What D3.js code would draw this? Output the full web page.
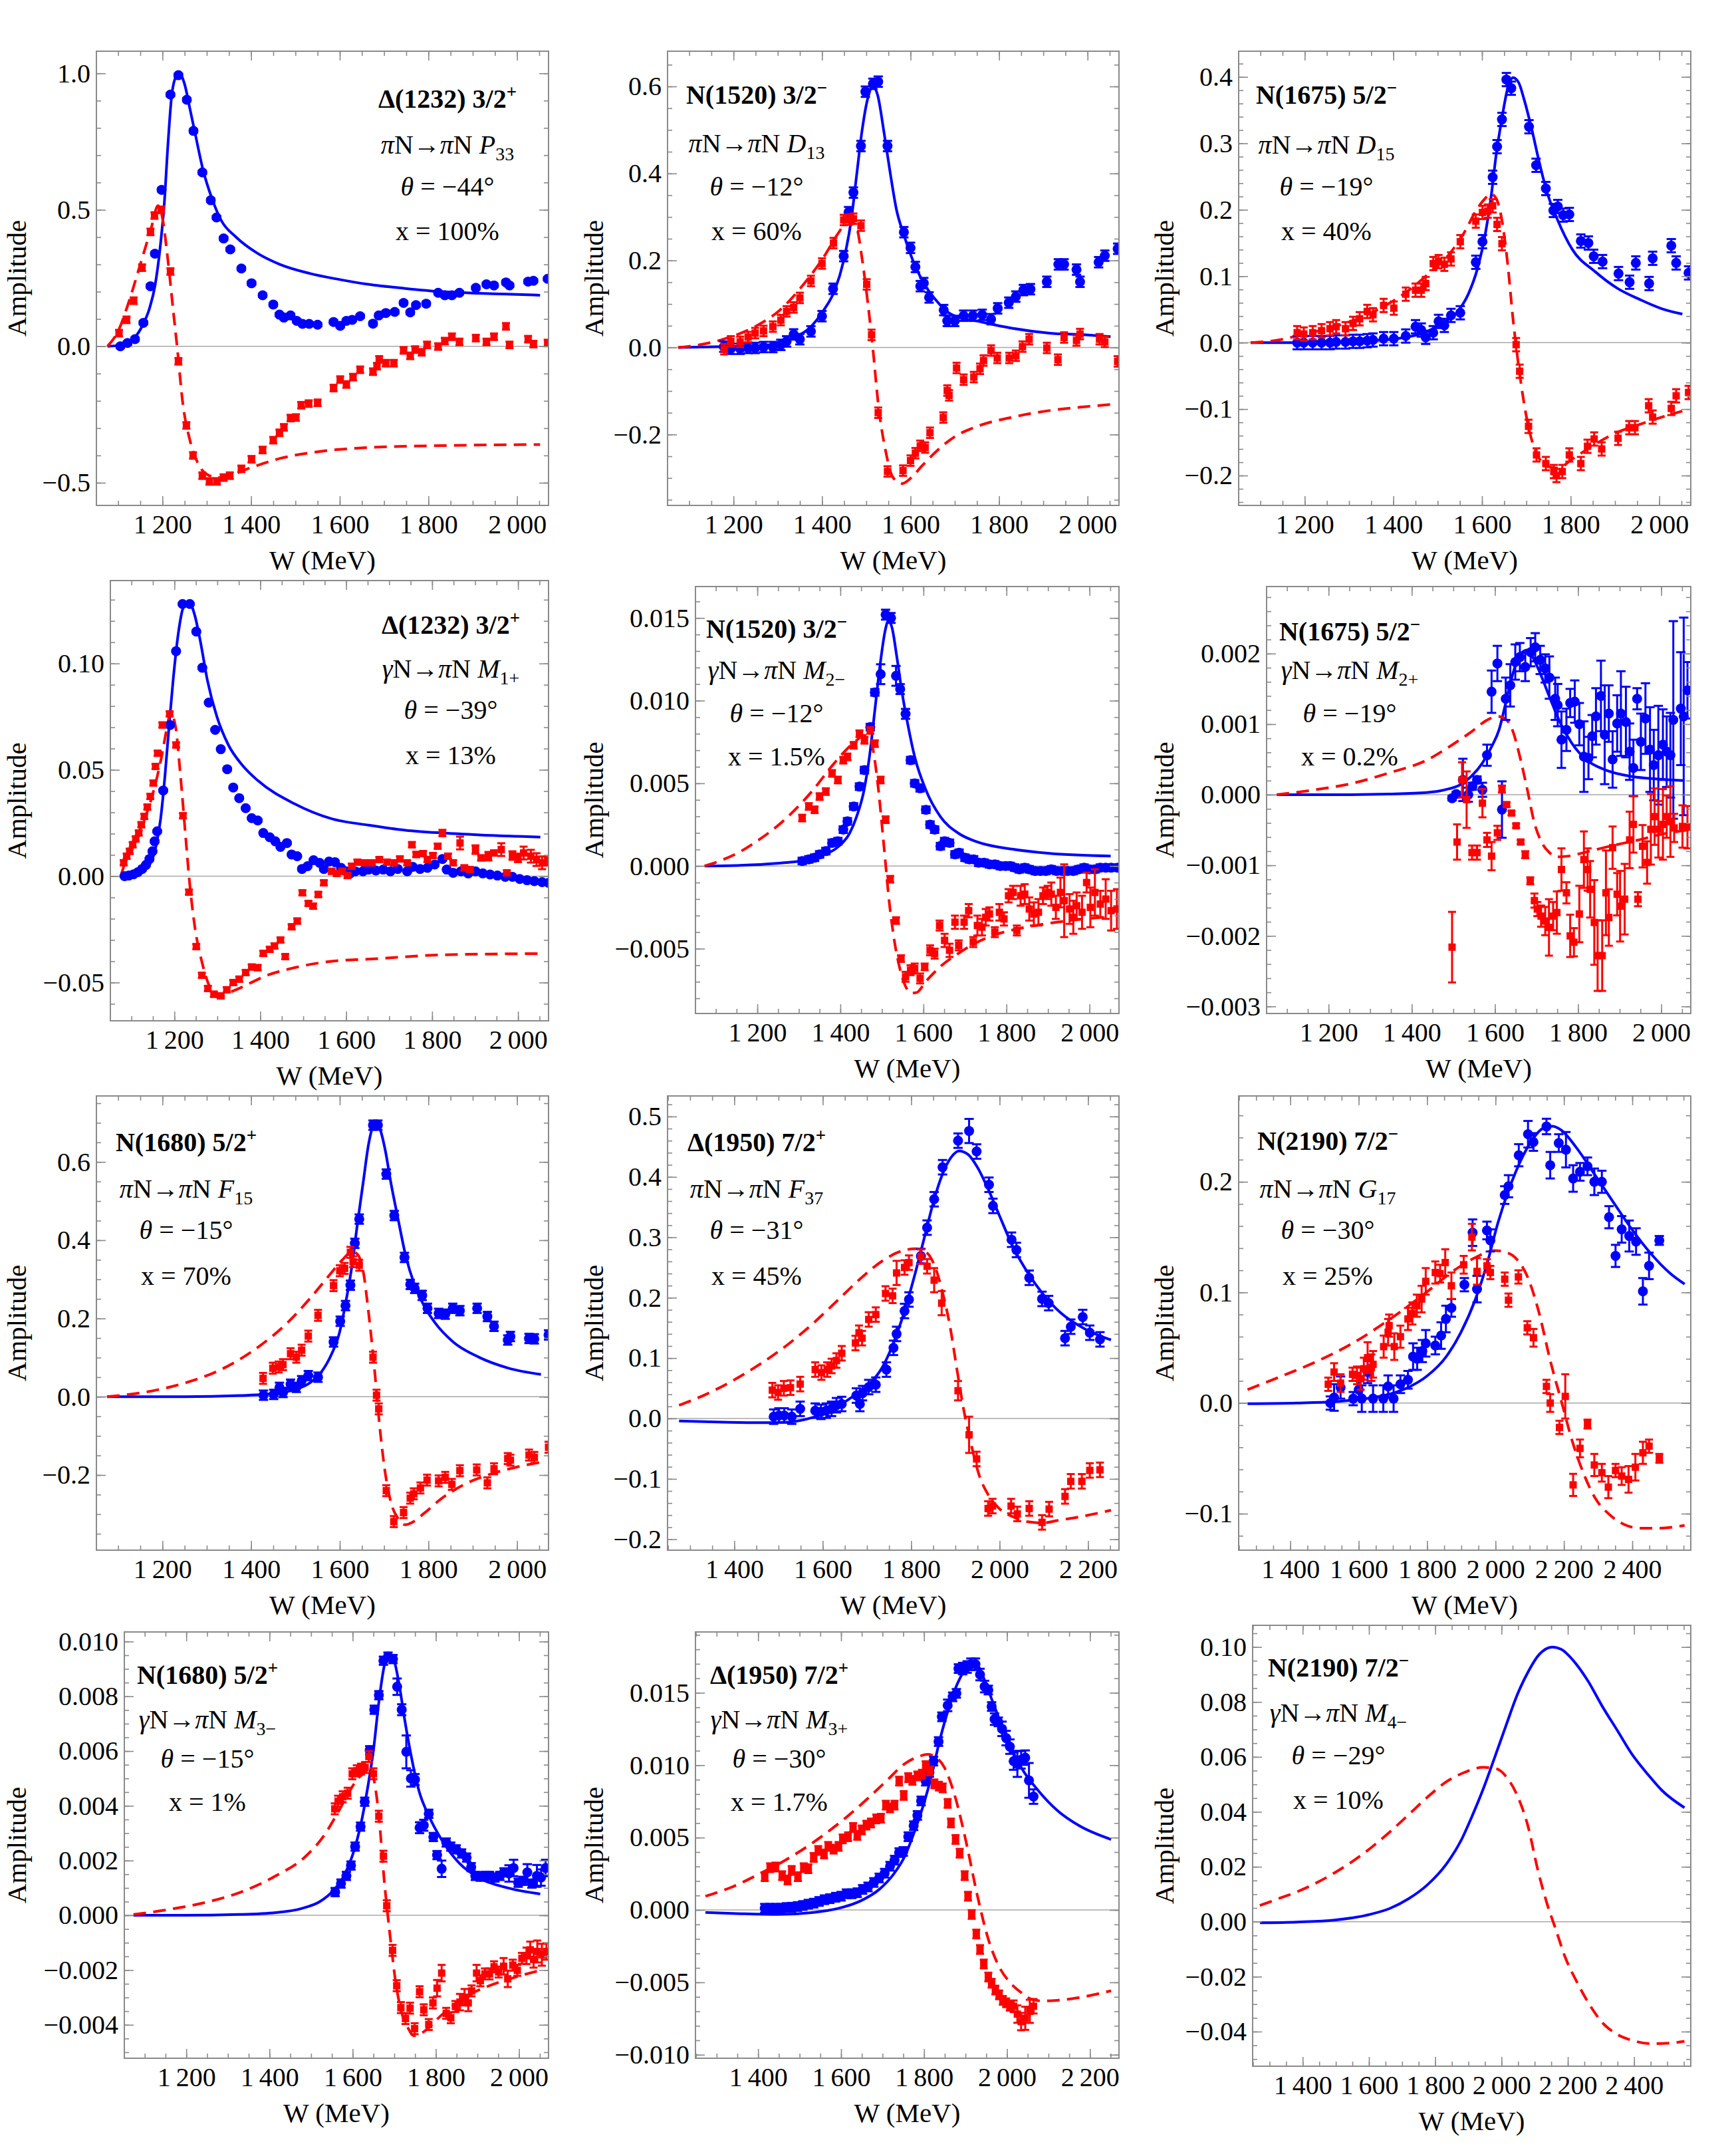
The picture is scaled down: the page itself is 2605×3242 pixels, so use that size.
<!DOCTYPE html>
<html>
<head>
<meta charset="utf-8">
<script src="https://cdn.jsdelivr.net/npm/d3@7"></script>
<style>body{margin:0;background:#fff}</style>
</head>
<body>
<div id="chart"></div>
<script>
// ---- data: [W (MeV), amplitude, (error)] ----
// row 1 : piN -> piN
const p1BlueCurve = [[1076,0],[1109,0.005],[1134,0.026],[1154,0.073],[1171,0.14],[1183,0.22],[1196,0.38],[1204,0.52],[1212,0.73],[1221,0.92],[1231,0.987],[1240,0.995],[1250,0.96],[1262,0.87],[1275,0.77],[1291,0.65],[1312,0.54],[1333,0.46],[1366,0.40],[1415,0.34],[1465,0.30],[1532,0.267],[1598,0.245],[1664,0.227],[1747,0.212],[1830,0.2],[1913,0.194],[2000,0.19],[2052,0.187]];
const p1RedCurve = [[1076,0],[1101,0.059],[1125,0.167],[1150,0.30],[1175,0.435],[1190,0.515],[1200,0.47],[1212,0.32],[1225,0.12],[1233,0],[1246,-0.21],[1262,-0.344],[1279,-0.425],[1299,-0.468],[1324,-0.481],[1349,-0.474],[1399,-0.445],[1465,-0.411],[1548,-0.387],[1664,-0.371],[1830,-0.364],[2052,-0.36]];
const p1BlueData = [[1105,0],[1121,0.012],[1138,0.026],[1157,0.086],[1173,0.22],[1183,0.339],[1198,0.573],[1218,0.922],[1236,0.993],[1255,0.903],[1270,0.789],[1290,0.637],[1309,0.535],[1322,0.472],[1338,0.395],[1353,0.355],[1378,0.285],[1401,0.231],[1426,0.187],[1450,0.153],[1464,0.116],[1474,0.105],[1489,0.113],[1503,0.093],[1516,0.082],[1531,0.082],[1550,0.079],[1586,0.089],[1601,0.075],[1615,0.093],[1628,0.097],[1646,0.11],[1675,0.083],[1688,0.113],[1704,0.122],[1724,0.126],[1744,0.159],[1759,0.124],[1772,0.151],[1795,0.156],[1822,0.196],[1837,0.187],[1853,0.187],[1870,0.196],[1907,0.214],[1931,0.227],[1948,0.223],[1975,0.234],[1983,0.223],[2025,0.237],[2037,0.24],[2069,0.247]];
const p1RedData = [[1102,0.048],[1119,0.097],[1135,0.167],[1154,0.288],[1173,0.419],[1182,0.479],[1197,0.5],[1218,0.274],[1236,-0.055],[1254,-0.29],[1269,-0.40],[1290,-0.474],[1306,-0.495],[1323,-0.495],[1338,-0.481],[1352,-0.474],[1378,-0.449],[1401,-0.414],[1426,-0.38],[1450,-0.344],[1464,-0.317],[1474,-0.297],[1489,-0.263],[1501,-0.261],[1513,-0.216],[1530,-0.21],[1550,-0.207],[1586,-0.153],[1601,-0.122],[1615,-0.14],[1630,-0.113],[1646,-0.086],[1675,-0.093],[1684,-0.073],[1689,-0.048],[1704,-0.062],[1722,-0.062],[1744,-0.015],[1759,-0.035],[1770,-0.012],[1785,-0.022],[1797,0.005],[1822,-0.001],[1837,0.019],[1853,0.035],[1870,0.016],[1907,0.03],[1931,0.016],[1948,0.035],[1975,0.073],[1983,0.005],[2025,0.026],[2037,0.008],[2069,0.012]];

const p2BlueCurve = [[1075,0],[1174,0.002],[1256,0.004],[1305,0.01],[1338,0.023],[1371,0.044],[1404,0.086],[1429,0.132],[1449,0.2],[1466,0.293],[1478,0.394],[1490,0.495],[1503,0.571],[1515,0.6],[1526,0.579],[1540,0.495],[1554,0.402],[1568,0.318],[1585,0.259],[1609,0.191],[1634,0.141],[1659,0.107],[1683,0.082],[1716,0.067],[1749,0.061],[1790,0.052],[1831,0.044],[1914,0.033],[1996,0.029],[2052,0.025]];
const p2RedCurve = [[1075,0],[1133,0.008],[1190,0.023],[1256,0.052],[1305,0.086],[1355,0.141],[1404,0.208],[1437,0.263],[1461,0.293],[1478,0.276],[1490,0.208],[1503,0.107],[1515,-0.003],[1527,-0.129],[1544,-0.239],[1560,-0.298],[1581,-0.313],[1601,-0.3],[1626,-0.272],[1659,-0.238],[1700,-0.205],[1749,-0.182],[1831,-0.16],[1914,-0.145],[1996,-0.136],[2052,-0.131]];
const p2BlueData = [[1178,0.002],[1194,-0.003],[1215,-0.003],[1233,-0.001],[1249,-0.001],[1268,0.001],[1289,0.001],[1307,0.006],[1320,0.014],[1336,0.03],[1350,0.019],[1375,0.037],[1400,0.072],[1425,0.135],[1449,0.21],[1460,0.311],[1471,0.356],[1488,0.463],[1498,0.588],[1515,0.606],[1527,0.611],[1548,0.463],[1585,0.265],[1600,0.229],[1611,0.185],[1622,0.141],[1630,0.148],[1642,0.115],[1675,0.086],[1683,0.061],[1700,0.061],[1720,0.073],[1741,0.073],[1762,0.075],[1782,0.065],[1797,0.09],[1822,0.103],[1838,0.117],[1855,0.132],[1871,0.134],[1908,0.151],[1934,0.191],[1947,0.191],[1975,0.179],[1983,0.151],[2025,0.196],[2039,0.211],[2068,0.227]];
const p2RedData = [[1179,-0.004],[1194,0.014],[1215,0.013],[1233,0.024],[1249,0.033],[1268,0.038],[1289,0.048],[1307,0.063],[1320,0.083],[1336,0.092],[1350,0.114],[1375,0.153],[1400,0.193],[1426,0.24],[1449,0.293],[1461,0.294],[1471,0.296],[1488,0.28],[1501,0.145],[1512,0.029],[1527,-0.15],[1548,-0.285],[1583,-0.283],[1600,-0.26],[1611,-0.243],[1622,-0.226],[1633,-0.23],[1644,-0.196],[1674,-0.161],[1683,-0.099],[1687,-0.11],[1704,-0.047],[1720,-0.074],[1743,-0.068],[1757,-0.049],[1765,-0.03],[1782,-0.007],[1796,-0.024],[1823,-0.024],[1838,-0.019],[1853,0.002],[1868,0.019],[1908,-0.001],[1933,-0.028],[1947,0.023],[1975,0.016],[1983,0.031],[2027,0.019],[2039,0.013],[2068,-0.032]];

const p3BlueCurve = [[1078,0],[1183,0],[1267,0.001],[1351,0.003],[1418,0.007],[1469,0.015],[1511,0.029],[1544,0.046],[1569,0.073],[1590,0.112],[1607,0.162],[1620,0.217],[1632,0.283],[1645,0.338],[1658,0.383],[1670,0.399],[1683,0.391],[1695,0.366],[1712,0.322],[1729,0.272],[1746,0.228],[1771,0.184],[1804,0.14],[1855,0.107],[1905,0.082],[1956,0.065],[2006,0.051],[2052,0.043]];
const p3RedCurve = [[1078,0],[1141,0.004],[1200,0.013],[1267,0.024],[1334,0.04],[1385,0.057],[1435,0.079],[1485,0.107],[1527,0.134],[1561,0.167],[1586,0.198],[1607,0.217],[1620,0.224],[1632,0.217],[1645,0.184],[1658,0.118],[1670,0.035],[1683,-0.037],[1695,-0.092],[1708,-0.136],[1725,-0.169],[1746,-0.186],[1771,-0.189],[1804,-0.175],[1855,-0.153],[1905,-0.135],[1956,-0.123],[2006,-0.112],[2052,-0.103]];
const p3BlueData = [[1183,0],[1198,0],[1218,0],[1238,0],[1257,0],[1271,0.001],[1292,0.001],[1309,0.002],[1324,0.002],[1341,0.003],[1354,0.004],[1378,0.006],[1401,0.006],[1428,0.01],[1450,0.024],[1463,0.019],[1473,0.008],[1490,0.015],[1502,0.032],[1515,0.026],[1530,0.041],[1551,0.045],[1586,0.121],[1601,0.152],[1624,0.249],[1634,0.295],[1645,0.336],[1655,0.396],[1666,0.383],[1706,0.325],[1722,0.267],[1744,0.232],[1761,0.199],[1771,0.205],[1783,0.192],[1797,0.193],[1823,0.153],[1840,0.15],[1852,0.13],[1872,0.122],[1908,0.104],[1933,0.091],[1947,0.12],[1977,0.089],[1985,0.127],[2027,0.146],[2038,0.12],[2066,0.105]];
const p3RedData = [[1183,0.015],[1198,0.013],[1218,0.015],[1238,0.018],[1257,0.021],[1271,0.024],[1292,0.021],[1309,0.029],[1324,0.036],[1341,0.047],[1354,0.042],[1378,0.056],[1401,0.052],[1428,0.073],[1450,0.079],[1463,0.079],[1473,0.089],[1490,0.119],[1502,0.122],[1515,0.118],[1530,0.126],[1551,0.152],[1586,0.183],[1601,0.196],[1613,0.198],[1624,0.206],[1634,0.178],[1645,0.149],[1677,-0.003],[1685,-0.043],[1705,-0.126],[1723,-0.169],[1744,-0.182],[1762,-0.194],[1768,-0.2],[1781,-0.194],[1797,-0.169],[1823,-0.182],[1838,-0.156],[1853,-0.145],[1870,-0.16],[1907,-0.144],[1932,-0.128],[1945,-0.128],[1976,-0.095],[1985,-0.112],[2027,-0.099],[2038,-0.08],[2066,-0.075]];

// row 2 : gammaN -> piN
const p4BlueCurve = [[1075,0],[1101,0.0008],[1127,0.003],[1144,0.006],[1157,0.014],[1168,0.027],[1178,0.047],[1187,0.069],[1197,0.092],[1209,0.114],[1222,0.127],[1234,0.129],[1247,0.123],[1260,0.111],[1277,0.092],[1299,0.075],[1325,0.062],[1359,0.052],[1394,0.045],[1480,0.034],[1566,0.027],[1652,0.024],[1738,0.0216],[1824,0.0203],[1910,0.0194],[2052,0.0184]];
const p4RedCurve = [[1075,0],[1088,0.008],[1105,0.016],[1127,0.025],[1148,0.0375],[1170,0.056],[1183,0.07],[1191,0.077],[1203,0.07],[1213,0.05],[1226,0.019],[1234,0],[1247,-0.023],[1265,-0.041],[1282,-0.052],[1303,-0.057],[1325,-0.055],[1359,-0.052],[1411,-0.047],[1480,-0.043],[1566,-0.04],[1652,-0.039],[1824,-0.037],[2052,-0.0364]];
const p4BlueData = [[1084,0],[1094,0.0003],[1105,0.0009],[1115,0.0019],[1125,0.0034],[1134,0.0053],[1142,0.0081],[1149,0.0117],[1154,0.0164],[1160,0.0211],[1174,0.0403],[1190,0.0711],[1204,0.1058],[1219,0.128],[1236,0.128],[1251,0.115],[1265,0.098],[1280,0.0816],[1295,0.0688],[1308,0.0597],[1323,0.0503],[1337,0.0417],[1351,0.0367],[1366,0.032],[1380,0.0273],[1394,0.0262],[1407,0.0203],[1422,0.0183],[1435,0.0164],[1447,0.0138],[1462,0.0156],[1473,0.0102],[1486,0.0094],[1497,0.0034],[1510,0.0047],[1524,0.0075],[1538,0.0063],[1548,0.0034],[1560,0.0069],[1574,0.0066],[1588,0.0039],[1600,0.0023],[1609,0.0013],[1621,0.0023],[1639,0.0023],[1652,0.0031],[1669,0.0027],[1686,0.0031],[1703,0.0023],[1720,0.0034],[1742,0.0023],[1755,0.0044],[1772,0.0034],[1789,0.0039],[1806,0.0055],[1824,0.0081],[1834,0.0031],[1849,0.0016],[1867,0.0023],[1884,0.0013],[1901,0.0023],[1918,0.0013],[1935,0.0008],[1952,0.0003],[1970,-0.0003],[1987,-0.0003],[2004,-0.0013],[2021,-0.0019],[2038,-0.0023],[2056,-0.0028],[2071,-0.0031]];
const p4RedData = [[1082,0.0063],[1089,0.0094],[1096,0.0117],[1103,0.0148],[1110,0.0175],[1117,0.0203],[1123,0.0242],[1130,0.0281],[1137,0.0325],[1144,0.0375],[1151,0.0438],[1156,0.0516],[1161,0.0578],[1172,0.0711],[1189,0.0763],[1204,0.0617],[1220,0.0284],[1234,-0.0075],[1251,-0.0331],[1264,-0.0466],[1278,-0.0528],[1292,-0.0555],[1308,-0.0563],[1322,-0.0534],[1337,-0.05],[1351,-0.0484],[1366,-0.0453],[1380,-0.0427],[1394,-0.043],[1407,-0.0363],[1422,-0.0344],[1433,-0.0328],[1447,-0.03],[1458,-0.0378],[1473,-0.0238],[1486,-0.0211],[1498,-0.0078],[1512,-0.0128],[1523,-0.0141],[1535,-0.0086],[1548,-0.0031],[1566,0.0023],[1578,0.0013],[1591,0.0023],[1603,0.0003],[1613,0.0047],[1626,0.0066],[1643,0.0063],[1660,0.0063],[1677,0.0078],[1695,0.0066],[1712,0.0063],[1725,0.0081],[1742,0.0063],[1753,0.0148],[1763,0.0102],[1779,0.0106],[1789,0.0078],[1802,0.0097],[1813,0.0141],[1824,0.0203,0.0015],[1837,0.0094],[1849,0.0063],[1865,0.0156,0.003],[1875,0.0039],[1888,0.0031],[1901,0.0125,0.002],[1914,0.0086],[1931,0.0094,0.002],[1944,0.0109],[1961,0.0125,0.003],[1974,0.0016],[1987,0.0097,0.002],[2000,0.0086,0.002],[2013,0.0109,0.003],[2030,0.0094,0.003],[2043,0.0078,0.003],[2056,0.0063,0.003],[2069,0.007,0.002]];

const p5BlueCurve = [[1073,0],[1159,0.00004],[1246,0.00016],[1308,0.00032],[1360,0.00066],[1395,0.00117],[1422,0.00197],[1439,0.00298],[1457,0.00459],[1470,0.0066],[1483,0.00942],[1496,0.01223],[1508,0.01425],[1516,0.01485],[1525,0.01435],[1536,0.01264],[1549,0.01042],[1562,0.00861],[1579,0.0066],[1606,0.00459],[1641,0.00298],[1685,0.00197],[1728,0.00147],[1816,0.00101],[1904,0.00076],[2051,0.0006]];
const p5RedCurve = [[1073,0],[1115,0.00036],[1159,0.00087],[1203,0.00157],[1246,0.00237],[1290,0.00338],[1334,0.00459],[1378,0.006],[1413,0.007],[1439,0.0076],[1457,0.0079],[1470,0.0078],[1479,0.007],[1490,0.00499],[1505,0.00117],[1518,-0.00225],[1531,-0.00467],[1544,-0.00628],[1557,-0.00728],[1571,-0.00769],[1584,-0.00765],[1606,-0.00698],[1641,-0.00608],[1685,-0.00527],[1728,-0.00463],[1772,-0.00416],[1816,-0.00386],[1904,-0.00346],[2051,-0.00306]];
const p5BlueData = [[1308,0.0003],[1324,0.0004],[1338,0.0005],[1350,0.0007],[1365,0.0009],[1380,0.0014],[1394,0.0015],[1407,0.0022],[1417,0.0027],[1432,0.0036],[1446,0.0048],[1458,0.0058],[1472,0.0084],[1483,0.0105],[1497,0.0116,0.0006],[1509,0.0152,0.0003],[1522,0.015,0.0003],[1534,0.0115,0.0006],[1544,0.0107,0.0003],[1557,0.0092,0.0003],[1569,0.0064],[1579,0.005],[1592,0.0047],[1606,0.0034],[1616,0.0025],[1627,0.0022],[1641,0.0012],[1651,0.0015],[1663,0.0014],[1676,0.0007],[1686,0.0008],[1700,0.0005],[1711,0.0004],[1721,0.0004],[1733,0.0002],[1746,0.0002],[1759,0.0001],[1772,0.0001],[1785,0],[1798,0],[1809,0],[1820,-0.0001],[1831,-0.0002],[1844,-0.0001],[1855,-0.0002],[1869,-0.0003],[1882,-0.0003],[1895,-0.0003],[1908,-0.0002],[1921,-0.0003],[1934,-0.0003],[1947,-0.0003],[1961,-0.0003],[1974,-0.0002],[1987,-0.0001],[2000,-0.0002],[2013,-0.0002],[2026,-0.0001],[2039,-0.0001],[2052,-0.0001],[2068,-0.0001]];
const p5RedData = [[1308,0.0029],[1324,0.0036],[1338,0.0034],[1350,0.0042],[1365,0.0045],[1380,0.0056],[1394,0.0052],[1407,0.0064],[1417,0.0066],[1432,0.0073],[1446,0.008],[1458,0.0076],[1472,0.0082],[1483,0.0074],[1497,0.0052],[1509,0.0028],[1520,-0.0008],[1534,-0.0033],[1546,-0.0056],[1557,-0.0067,0.0003],[1569,-0.0063,0.0003],[1579,-0.0062,0.0003],[1592,-0.0068,0.0003],[1603,-0.0061],[1616,-0.0051,0.0003],[1627,-0.0053,0.0003],[1639,-0.0036,0.0003],[1651,-0.0045,0.0004],[1663,-0.0051,0.0004],[1676,-0.0034,0.0004],[1685,-0.0048,0.0003],[1698,-0.0034,0.0004],[1709,-0.0027,0.0004],[1720,-0.0046,0.0003],[1730,-0.0036,0.0006],[1741,-0.0037,0.0005],[1750,-0.0031,0.0005],[1759,-0.0029,0.0004],[1772,-0.004,0.0003],[1783,-0.0028,0.0005],[1794,-0.0032,0.0004],[1805,-0.0018,0.0004],[1816,-0.0016,0.0004],[1825,-0.0039,0.0003],[1834,-0.0018,0.0006],[1844,-0.0017,0.0006],[1855,-0.0026,0.0007],[1866,-0.0029,0.0007],[1877,-0.0028,0.0008],[1888,-0.0018,0.0005],[1899,-0.0016,0.0004],[1908,-0.0017,0.0007],[1919,-0.0025,0.0007],[1930,-0.0016,0.0009],[1939,-0.0021,0.0022],[1952,-0.0026,0.0009],[1961,-0.0031,0.001],[1969,-0.0024,0.0008],[1982,-0.0028,0.001],[1993,-0.001,0.0006],[2002,-0.0025,0.0012],[2013,-0.0016,0.0014],[2026,-0.0023,0.0008],[2039,-0.002,0.0012],[2052,-0.0027,0.0012],[2066,-0.0026,0.0012]];

const p6BlueCurve = [[1075,0],[1212,0],[1346,0.00001],[1436,0.00003],[1480,0.00007],[1516,0.00014],[1543,0.00026],[1570,0.00045],[1592,0.00068],[1610,0.00092],[1624,0.00125],[1637,0.00158],[1651,0.00186],[1664,0.00201],[1678,0.00205],[1691,0.00195],[1709,0.00172],[1731,0.00139],[1758,0.00101],[1785,0.00073],[1821,0.00049],[1866,0.00035],[1928,0.00026],[2000,0.00022],[2054,0.0002]];
const p6RedCurve = [[1075,0],[1167,0.00007],[1256,0.00016],[1346,0.00031],[1436,0.00049],[1498,0.00071],[1543,0.00089],[1579,0.00105],[1606,0.00111],[1624,0.00108],[1642,0.00092],[1660,0.00054],[1678,0.00007],[1695,-0.0004],[1713,-0.00068],[1731,-0.00082],[1749,-0.00088],[1776,-0.00087],[1821,-0.00081],[1883,-0.00072],[1946,-0.00064],[2000,-0.00056],[2063,-0.0005]];
const p6BlueData = [[1497,-0.00005,0.00003],[1507,0.00001,0.00003],[1523,0.00021,0.0003],[1536,0,0.0001],[1546,0.00012,0.00005],[1557,0.00021,0.00005],[1570,0.00007,0.0001],[1581,0.00056,0.00015],[1592,0.00146,0.0003],[1606,0.00186,0.00025],[1617,-0.00021,0.0004],[1626,0.00136,0.0003],[1637,0.00155,0.0003],[1649,0.00188,0.00025],[1660,0.00195,0.0002],[1673,0.00181,0.0002],[1686,0.00202,0.0002],[1697,0.00209,0.0002],[1709,0.00191,0.0002],[1721,0.00179,0.0002],[1731,0.00166,0.0003],[1745,0.00136,0.0003],[1751,0.00127,0.0003],[1760,0.00078,0.0004],[1772,0.00092,0.0003],[1781,0.0013,0.0002],[1792,0.00132,0.0003],[1803,0.001,0.0003],[1814,0.00054,0.0005],[1825,0.00052,0.0003],[1834,0.00083,0.0003],[1843,0.00111,0.0004],[1855,0.0014,0.0005],[1864,0.00085,0.0007],[1874,0.00115,0.0004],[1883,0.0005,0.0004],[1894,0.00101,0.0004],[1903,0.00115,0.0006],[1915,0.00103,0.0005],[1924,0.00061,0.0004],[1933,0.00038,0.0004],[1942,0.00136,0.00015],[1951,0.00075,0.0004],[1962,0.00108,0.0005],[1973,0.00064,0.0006],[1982,0.00042,0.0005],[1993,0.00056,0.0007],[2004,0.00071,0.0005],[2013,0.00061,0.0005],[2022,0.00056,0.0006],[2029,0.00106,0.0014],[2047,0.00122,0.0008],[2054,0.00111,0.0014],[2063,0.00148,0.0004]];
const p6RedData = [[1497,-0.00216,0.0005],[1509,-0.00067,0.00025],[1521,0.00021,0.00025],[1532,-0.00007,0.0004],[1545,-0.00082,0.0001],[1557,-0.00082,0.0001],[1570,-0.00012,0.0002],[1581,-0.00064,0.0001],[1592,-0.00087,0.0002],[1606,-0.00054,0.0001],[1617,0.00008,0.00005],[1628,-0.00014,0.00003],[1640,-0.00026,0.00003],[1651,-0.00044,0.00003],[1662,-0.00067,0.00003],[1673,-0.00085,0.00005],[1685,-0.00122,0.00005],[1695,-0.0015,0.0001],[1702,-0.00162,0.0001],[1711,-0.00172,0.00015],[1721,-0.00179,0.0002],[1730,-0.00188,0.0004],[1740,-0.00172,0.0002],[1749,-0.00167,0.0003],[1760,-0.00106,0.0003],[1772,-0.00139,0.00015],[1781,-0.002,0.0003],[1790,-0.00209,0.0002],[1803,-0.00169,0.0004],[1814,-0.00092,0.0004],[1823,-0.00106,0.0003],[1829,-0.00134,0.0004],[1839,-0.00181,0.0006],[1847,-0.00228,0.0005],[1858,-0.00228,0.0005],[1867,-0.00139,0.0006],[1874,-0.00174,0.0004],[1883,-0.00075,0.0003],[1894,-0.00141,0.0003],[1901,-0.00158,0.0005],[1912,-0.00148,0.0005],[1924,-0.00064,0.0004],[1933,-0.00042,0.0004],[1944,-0.00148,0.0001],[1955,-0.00073,0.0003],[1966,-0.00096,0.0003],[1975,-0.00049,0.0005],[1984,-0.00031,0.0004],[1993,-0.00049,0.0004],[2004,-0.00042,0.0005],[2013,-0.00031,0.0003],[2022,-0.00038,0.0005],[2031,-0.00047,0.0002],[2051,-0.00045,0.0003],[2063,-0.00046,0.0003]];

// row 3 : piN -> piN
const p7BlueCurve = [[1075,0],[1250,0],[1374,0.003],[1458,0.009],[1499,0.018],[1532,0.035],[1557,0.061],[1582,0.11],[1599,0.162],[1615,0.25],[1628,0.338],[1640,0.443],[1653,0.549],[1665,0.645],[1675,0.691],[1683,0.7],[1692,0.68],[1703,0.628],[1715,0.549],[1732,0.452],[1748,0.364],[1769,0.285],[1790,0.233],[1815,0.189],[1856,0.14],[1914,0.101],[1981,0.073],[2054,0.057]];
const p7RedCurve = [[1075,0],[1167,0.013],[1250,0.035],[1333,0.07],[1416,0.127],[1482,0.189],[1532,0.25],[1574,0.307],[1607,0.351],[1628,0.371],[1640,0.364],[1653,0.32],[1665,0.215],[1678,0.075],[1690,-0.075],[1703,-0.198],[1715,-0.268],[1732,-0.312],[1748,-0.327],[1765,-0.32],[1790,-0.298],[1831,-0.259],[1881,-0.224],[1939,-0.198],[1998,-0.18],[2054,-0.167]];
const p7BlueData = [[1428,0.004],[1451,0.006],[1464,0.024],[1472,0.011],[1489,0.032],[1502,0.024],[1514,0.041],[1529,0.054],[1551,0.05],[1586,0.14],[1601,0.193],[1613,0.233],[1624,0.285],[1634,0.392],[1644,0.454],[1675,0.694],[1686,0.694],[1705,0.569],[1723,0.463],[1746,0.356],[1759,0.287],[1769,0.277],[1786,0.259],[1798,0.226],[1823,0.213],[1838,0.211],[1855,0.226],[1871,0.22],[1910,0.226],[1933,0.205],[1948,0.18],[1979,0.145],[1985,0.154],[2027,0.149],[2039,0.148],[2071,0.158]];
const p7RedData = [[1427,0.047],[1449,0.073],[1462,0.076],[1472,0.082],[1489,0.11],[1502,0.101],[1514,0.119],[1529,0.155],[1551,0.208],[1586,0.284],[1600,0.322],[1611,0.328],[1624,0.369],[1630,0.345],[1644,0.336],[1675,0.101],[1683,0.004],[1688,-0.031],[1705,-0.24],[1722,-0.319],[1744,-0.296],[1759,-0.259],[1767,-0.248],[1782,-0.233],[1797,-0.213],[1823,-0.215],[1838,-0.206],[1853,-0.224],[1871,-0.189],[1909,-0.187],[1933,-0.22],[1948,-0.184],[1979,-0.158],[1985,-0.162],[2027,-0.149],[2039,-0.155],[2071,-0.129]];

const p8BlueCurve = [[1275,-0.004],[1374,-0.006],[1456,-0.007],[1522,-0.006],[1579,0.002],[1620,0.013],[1661,0.033],[1703,0.055],[1735,0.085],[1760,0.125],[1785,0.178],[1809,0.24],[1830,0.3],[1851,0.36],[1871,0.405],[1890,0.432],[1908,0.443],[1929,0.437],[1949,0.417],[1974,0.38],[1999,0.337],[2031,0.283],[2064,0.241],[2097,0.207],[2138,0.175],[2196,0.147],[2252,0.13]];
const p8RedCurve = [[1275,0.022],[1333,0.039],[1390,0.06],[1456,0.089],[1522,0.123],[1579,0.158],[1637,0.198],[1686,0.232],[1735,0.261],[1777,0.277],[1809,0.281],[1834,0.275],[1855,0.249],[1871,0.209],[1888,0.152],[1904,0.079],[1920,0.01],[1937,-0.047],[1953,-0.092],[1974,-0.126],[1999,-0.149],[2031,-0.163],[2064,-0.171],[2097,-0.173],[2130,-0.169],[2179,-0.163],[2252,-0.152]];
const p8BlueData = [[1489,0.003],[1501,0.005],[1513,0.005],[1530,0.003],[1549,0.016],[1583,0.013],[1596,0.011],[1608,0.013],[1620,0.016],[1631,0.022],[1643,0.024],[1676,0.038],[1684,0.024],[1690,0.042],[1704,0.052],[1720,0.056],[1744,0.081],[1760,0.117],[1767,0.14],[1785,0.178],[1795,0.197],[1822,0.269],[1836,0.316],[1852,0.363],[1871,0.416],[1906,0.46],[1931,0.476,0.02],[1948,0.442],[1976,0.387],[1985,0.352],[2027,0.296],[2038,0.279],[2067,0.233],[2096,0.198],[2111,0.191],[2148,0.133],[2161,0.152],[2188,0.168],[2204,0.142],[2227,0.131]];
const p8RedData = [[1486,0.047],[1499,0.043],[1512,0.05],[1527,0.051],[1549,0.057],[1583,0.081],[1597,0.076],[1610,0.081],[1620,0.087],[1631,0.096],[1643,0.108],[1674,0.125],[1682,0.142],[1689,0.133],[1704,0.164],[1720,0.172],[1742,0.207],[1758,0.203],[1767,0.241,0.02],[1785,0.25],[1795,0.258],[1822,0.268],[1836,0.252],[1852,0.229,0.02],[1869,0.191,0.02],[1906,0.046,0.016],[1931,-0.027,0.03],[1948,-0.067],[1974,-0.149],[1984,-0.145],[2026,-0.145],[2040,-0.158],[2067,-0.149],[2096,-0.172],[2112,-0.15],[2148,-0.129],[2161,-0.104],[2186,-0.104],[2204,-0.086],[2227,-0.085]];

const p9BlueCurve = [[1275,-0.0006],[1419,0],[1528,0.0012],[1615,0.0037],[1691,0.0081],[1746,0.0143],[1800,0.0245],[1855,0.0416],[1898,0.0634],[1942,0.0944],[1975,0.1255],[2007,0.1628],[2040,0.1938],[2073,0.2187],[2106,0.2373],[2138,0.2482],[2166,0.2503],[2193,0.2466],[2236,0.2311],[2291,0.2062],[2345,0.1814],[2400,0.1565],[2455,0.1348],[2509,0.1177],[2553,0.1075]];
const p9RedCurve = [[1275,0.0121],[1364,0.023],[1473,0.037],[1582,0.054],[1691,0.0758],[1800,0.1006],[1876,0.1193],[1942,0.1317],[1996,0.1379],[2029,0.1364],[2062,0.1301],[2095,0.1131],[2127,0.082],[2160,0.0385],[2193,0.0012],[2226,-0.036],[2258,-0.064],[2291,-0.0857],[2335,-0.1013],[2378,-0.11],[2422,-0.1131],[2476,-0.1131],[2553,-0.1106]];
const p9BlueData = [[1517,0,0.006],[1528,0.005,0.012],[1547,0.014,0.01],[1584,0.004,0.006],[1600,0.012,0.008],[1609,0.004,0.012],[1626,0.028,0.01],[1642,0.004,0.012],[1672,0.004,0.012],[1686,0.015,0.01],[1702,0.004,0.012],[1722,0.017,0.008],[1744,0.021,0.008],[1759,0.042,0.012],[1771,0.04,0.01],[1786,0.047,0.01],[1796,0.054,0.012],[1824,0.052,0.008],[1841,0.061,0.012],[1855,0.076,0.012],[1871,0.086,0.008],[1909,0.107,0.006],[1933,0.154,0.012],[1946,0.103,0.012],[1975,0.156,0.008],[1985,0.147,0.01],[2027,0.188,0.008],[2038,0.196,0.01],[2068,0.224,0.01],[2095,0.243,0.012],[2111,0.236,0.008],[2149,0.25,0.007],[2160,0.215,0.012],[2185,0.235,0.008],[2206,0.229,0.016],[2227,0.203,0.012],[2247,0.209,0.008],[2269,0.214,0.008],[2289,0.2,0.012],[2311,0.2,0.01],[2332,0.168,0.01],[2351,0.133,0.01],[2369,0.157,0.012],[2391,0.151,0.014],[2411,0.146,0.012],[2431,0.101,0.012],[2449,0.124,0.012],[2479,0.147,0.004]];
const p9RedData = [[1511,0.017,0.006],[1528,0.028,0.008],[1547,0.018,0.008],[1582,0.026,0.006],[1595,0.025,0.008],[1606,0.022,0.01],[1615,0.031,0.01],[1626,0.041,0.014],[1637,0.032,0.012],[1642,0.035,0.012],[1673,0.051,0.01],[1686,0.064,0.012],[1689,0.07,0.01],[1704,0.051,0.012],[1722,0.06,0.01],[1744,0.076,0.01],[1757,0.081,0.01],[1770,0.088,0.01],[1784,0.094,0.012],[1796,0.11,0.012],[1824,0.118,0.01],[1838,0.117,0.008],[1853,0.127,0.012],[1871,0.106,0.012],[1907,0.125,0.008],[1931,0.15,0.012],[1946,0.119,0.012],[1975,0.124,0.006],[1985,0.118,0.006],[2027,0.112,0.006],[2038,0.093,0.006],[2067,0.114,0.006],[2093,0.068,0.006],[2111,0.059,0.008],[2149,0.015,0.006],[2160,0,0.008],[2187,-0.022,0.006],[2204,0.006,0.02],[2227,-0.074,0.01],[2247,-0.041,0.008],[2269,-0.019,0.004],[2289,-0.056,0.01],[2311,-0.063,0.008],[2330,-0.076,0.01],[2351,-0.061,0.006],[2369,-0.066,0.008],[2389,-0.069,0.012],[2409,-0.058,0.012],[2431,-0.045,0.01],[2449,-0.039,0.006],[2479,-0.05,0.004]];

// row 4 : gammaN -> piN
const p10BlueCurve = [[1073,0],[1193,0],[1326,0.00003],[1415,0.0001],[1477,0.00025],[1521,0.0005],[1552,0.00088],[1579,0.00144],[1601,0.00226],[1619,0.00327],[1636,0.00465],[1650,0.00603],[1663,0.00779],[1676,0.00911],[1688,0.00955],[1700,0.00929],[1712,0.00842],[1725,0.00716],[1743,0.00565],[1760,0.00452],[1783,0.00364],[1814,0.00276],[1858,0.00188],[1902,0.00138],[1973,0.001],[2051,0.00078]];
const p10RedCurve = [[1073,0.00003],[1149,0.00019],[1237,0.00044],[1326,0.00082],[1415,0.00144],[1486,0.00214],[1530,0.00289],[1565,0.00377],[1592,0.00452],[1614,0.00502],[1629,0.00521],[1641,0.0054],[1652,0.0049],[1663,0.00364],[1676,0.00126],[1690,-0.00075],[1703,-0.00239],[1716,-0.00345],[1734,-0.00414],[1747,-0.0044],[1769,-0.00427],[1814,-0.00364],[1867,-0.00301],[1929,-0.00257],[1991,-0.00226],[2051,-0.00201]];
const p10BlueData = [[1558,0.00085],[1572,0.00116],[1585,0.00144],[1596,0.00182],[1606,0.00251],[1619,0.00324],[1629,0.00415],[1641,0.00603],[1652,0.00751],[1663,0.00804],[1674,0.0093],[1685,0.00945],[1697,0.00936],[1707,0.00835,0.0003],[1718,0.00751,0.0002],[1729,0.00597,0.0006],[1740,0.005,0.0003],[1750,0.00496,0.0002],[1761,0.0032,0.0002],[1771,0.00329,0.0002],[1783,0.00371],[1794,0.00286],[1803,0.0022],[1814,0.0017,0.0003],[1825,0.00266],[1836,0.00251],[1849,0.00241],[1862,0.00226],[1874,0.00211],[1885,0.00176],[1895,0.00144],[1907,0.00141],[1918,0.00144],[1929,0.00144],[1942,0.00138],[1954,0.00144],[1964,0.00157],[1976,0.00153,0.0003],[1987,0.00173,0.0003],[1998,0.00119],[2009,0.00126],[2020,0.00157,0.0003],[2031,0.00116],[2043,0.00144,0.0004],[2053,0.00138,0.0003],[2064,0.00173,0.0003]];
const p10RedData = [[1557,0.00389],[1565,0.00417],[1576,0.00433],[1588,0.00446],[1599,0.00517],[1610,0.00528],[1620,0.00534],[1630,0.0054],[1639,0.0058],[1650,0.00517],[1663,0.00362],[1674,0.00216],[1682,0.00035],[1696,-0.00128],[1706,-0.00257],[1716,-0.00337],[1727,-0.00377],[1738,-0.00339],[1749,-0.00414],[1761,-0.00279],[1771,-0.00345],[1783,-0.00399],[1793,-0.0032],[1803,-0.00266,0.0003],[1814,-0.00211,0.0003],[1825,-0.00358],[1836,-0.00374],[1847,-0.00333],[1858,-0.00317,0.0003],[1869,-0.00299,0.0003],[1878,-0.0032,0.0003],[1886,-0.00276],[1898,-0.00211,0.0003],[1907,-0.00239],[1918,-0.00214],[1929,-0.00214],[1940,-0.00188],[1951,-0.00207],[1963,-0.00186,0.0003],[1973,-0.00232,0.0003],[1985,-0.00182],[1996,-0.00201],[2007,-0.00157],[2018,-0.00148,0.0003],[2027,-0.00126,0.0003],[2035,-0.00161,0.0003],[2044,-0.00132,0.0004],[2055,-0.00144,0.0004],[2066,-0.00132,0.0003]];

const p11BlueCurve = [[1273,-0.00017],[1359,-0.00026],[1446,-0.00031],[1534,-0.00017],[1595,0.00012],[1648,0.00064],[1692,0.00142],[1727,0.00249],[1753,0.00368],[1779,0.00558],[1801,0.00748],[1819,0.00938],[1836,0.01151],[1854,0.01341],[1871,0.01496],[1889,0.01614],[1904,0.01686],[1918,0.01709],[1933,0.01674],[1950,0.01555],[1972,0.01389],[1998,0.01199],[2034,0.00985],[2077,0.00819],[2121,0.00688],[2174,0.00582],[2251,0.00487]];
const p11RedCurve = [[1273,0.00095],[1333,0.00154],[1403,0.00249],[1473,0.00356],[1543,0.00487],[1613,0.00641],[1665,0.00772],[1709,0.0089],[1753,0.01009],[1788,0.01061],[1810,0.01075],[1828,0.01056],[1849,0.00985],[1876,0.00772],[1902,0.00463],[1928,0.00107],[1955,-0.00202],[1981,-0.00392],[2007,-0.00499],[2034,-0.0057],[2060,-0.00617],[2086,-0.00629],[2121,-0.00624],[2174,-0.00605],[2251,-0.00558]];
const p11BlueData = [[1416,0.00012],[1429,0.00012],[1442,0.00012],[1455,0.00012],[1468,0.00017],[1481,0.00019],[1495,0.00024],[1508,0.00031],[1521,0.0004],[1534,0.00047],[1547,0.00059],[1560,0.00071],[1573,0.00078],[1587,0.00088],[1600,0.00095],[1613,0.00112],[1626,0.00112],[1639,0.00119],[1652,0.00142],[1665,0.00159],[1679,0.0019],[1692,0.00221],[1705,0.00254],[1718,0.00302],[1729,0.00344],[1740,0.00396],[1750,0.00404],[1762,0.00506],[1775,0.00582],[1784,0.00653],[1793,0.00753],[1804,0.0089],[1813,0.0095],[1823,0.01028],[1835,0.01163],[1843,0.01334,0.0003],[1857,0.01413,0.0004],[1869,0.01472],[1878,0.01496],[1883,0.01667,0.0003],[1893,0.01667,0.0004],[1904,0.01678,0.0004],[1913,0.01697,0.0004],[1924,0.01697,0.0004],[1935,0.01626,0.0004],[1946,0.01543,0.0004],[1955,0.01519],[1963,0.01405],[1970,0.01318,0.0004],[1979,0.01299],[1988,0.01251,0.0005],[1998,0.01187,0.0005],[2007,0.01128,0.0005],[2016,0.01028,0.0006],[2025,0.01009,0.0009],[2034,0.01037,0.0006],[2044,0.01052,0.0005],[2053,0.00895,0.0012],[2064,0.00783,0.0005]];
const p11RedData = [[1416,0.0023],[1429,0.00292],[1442,0.00297],[1458,0.00237],[1471,0.00207],[1481,0.00273],[1496,0.0023],[1510,0.00292],[1521,0.00285],[1534,0.00363],[1545,0.00411],[1559,0.00387],[1569,0.00439],[1582,0.0042],[1594,0.00439],[1604,0.00491],[1617,0.00506],[1629,0.0057],[1639,0.00515],[1650,0.00553],[1661,0.00586],[1672,0.00601],[1685,0.00629],[1696,0.00634],[1708,0.00724],[1718,0.00705],[1729,0.00724],[1740,0.0089],[1751,0.00791],[1762,0.00914],[1772,0.00895],[1784,0.00926],[1795,0.00938],[1804,0.00997],[1814,0.00961],[1825,0.00871],[1836,0.00855],[1845,0.00843],[1857,0.00736],[1865,0.00601],[1876,0.00487],[1886,0.00392],[1898,0.00237],[1906,0.00095],[1915,-0.00031],[1926,-0.00166],[1935,-0.00273],[1944,-0.00373],[1955,-0.00463],[1963,-0.00506],[1972,-0.00553],[1981,-0.00586],[1990,-0.00624],[1998,-0.00641],[2007,-0.00665],[2016,-0.00665,0.0004],[2025,-0.00719,0.0006],[2034,-0.00771,0.0006],[2044,-0.00748,0.0008],[2055,-0.007,0.0008],[2064,-0.00665,0.0005]];

const p12BlueCurve = [[1271,-0.0004],[1383,-0.0001],[1496,0.0006],[1608,0.0028],[1664,0.0049],[1720,0.0084],[1776,0.0134],[1833,0.0209],[1878,0.0296],[1911,0.0384],[1945,0.0484],[1979,0.0597],[2012,0.0709],[2046,0.0822],[2080,0.0909],[2113,0.0972],[2153,0.1],[2181,0.0991],[2215,0.0953],[2260,0.0878],[2304,0.0784],[2349,0.0697],[2394,0.0609],[2439,0.054],[2484,0.0478],[2552,0.0415]];
const p12RedCurve = [[1271,0.0059],[1327,0.0084],[1383,0.0109],[1439,0.014],[1496,0.0178],[1552,0.0221],[1608,0.0271],[1664,0.0328],[1720,0.039],[1776,0.0453],[1833,0.0509],[1889,0.0544],[1945,0.0562],[1984,0.0557],[2018,0.0522],[2052,0.0447],[2080,0.0347],[2108,0.0196],[2136,0.0071],[2164,-0.0029],[2192,-0.0129],[2226,-0.0216],[2260,-0.0291],[2304,-0.0367],[2349,-0.041],[2394,-0.0432],[2451,-0.0444],[2507,-0.0442],[2552,-0.0435]];

// ---- panel texts ----
const titles = [['Δ(1232) 3/2','+'],['N(1520) 3/2','−'],['N(1675) 5/2','−'],['Δ(1232) 3/2','+'],['N(1520) 3/2','−'],['N(1675) 5/2','−'],['N(1680) 5/2','+'],['Δ(1950) 7/2','+'],['N(2190) 7/2','−'],['N(1680) 5/2','+'],['Δ(1950) 7/2','+'],['N(2190) 7/2','−']];
const reactions = [['π','P','33'],['π','D','13'],['π','D','15'],['γ','M','1+'],['γ','M','2−'],['γ','M','2+'],['π','F','15'],['π','F','37'],['π','G','17'],['γ','M','3−'],['γ','M','3+'],['γ','M','4−']];
const thetas = ['−44°','−12°','−19°','−39°','−12°','−19°','−15°','−31°','−30°','−15°','−30°','−29°'];
const fractions = ['100%','60%','40%','13%','1.5%','0.2%','70%','45%','25%','1%','1.7%','10%'];

// ---- layout ----
const domA = [1051, 2071], domB = [1249, 2270], domC = [1249, 2571];
const panels = [
  {frame:[145,77,825,760], xDom:domA, yDom:[-0.583,1.081], yMaj:0.5, yMin:0.1, yFmt:'.1f', ax:673, ay:[149,218,281,348], bc:p1BlueCurve, rc:p1RedCurve, bd:p1BlueData, rd:p1RedData, eb:0.006, er:0.012},
  {frame:[1004,77,1683,760], xDom:domA, yDom:[-0.363,0.681], yMaj:0.2, yMin:0.05, yFmt:'.1f', ax:1138, ay:[143,216,281,348], bc:p2BlueCurve, rc:p2RedCurve, bd:p2BlueData, rd:p2RedData, eb:0.012, er:0.012},
  {frame:[1863,77,2543,760], xDom:domA, yDom:[-0.245,0.4387], yMaj:0.1, yMin:0.02, yFmt:'.1f', ax:1995, ay:[143,218,281,348], bc:p3BlueCurve, rc:p3RedCurve, bd:p3BlueData, rd:p3RedData, eb:0.01, er:0.01},
  {frame:[166,873,825,1535], xDom:domA, yDom:[-0.068,0.139], yMaj:0.05, yMin:0.01, yFmt:'.2f', ax:678, ay:[940,1006,1068,1136], bc:p4BlueCurve, rc:p4RedCurve, bd:p4BlueData, rd:p4RedData, eb:0.0005, er:0.0012},
  {frame:[1046,882,1683,1524], xDom:domA, yDom:[-0.00892,0.0169], yMaj:0.005, yMin:0.001, yFmt:'.3f', ax:1168, ay:[946,1008,1073,1138], bc:p5BlueCurve, rc:p5RedCurve, bd:p5BlueData, rd:p5RedData, eb:0.0002, er:0.0002},
  {frame:[1905,882,2543,1524], xDom:domA, yDom:[-0.0031,0.00295], yMaj:0.001, yMin:0.0002, yFmt:'.3f', ax:2030, ay:[950,1008,1073,1138], bc:p6BlueCurve, rc:p6RedCurve, bd:p6BlueData, rd:p6RedData, eb:0.0002, er:0.0002},
  {frame:[145,1648,825,2331], xDom:domA, yDom:[-0.392,0.7686], yMaj:0.2, yMin:0.05, yFmt:'.1f', ax:280, ay:[1718,1788,1850,1919], bc:p7BlueCurve, rc:p7RedCurve, bd:p7BlueData, rd:p7RedData, eb:0.012, er:0.014},
  {frame:[1004,1648,1683,2331], xDom:domB, yDom:[-0.218,0.534], yMaj:0.1, yMin:0.02, yFmt:'.1f', ax:1138, ay:[1718,1788,1850,1919], bc:p8BlueCurve, rc:p8RedCurve, bd:p8BlueData, rd:p8RedData, eb:0.012, er:0.012},
  {frame:[1863,1648,2543,2331], xDom:domC, yDom:[-0.133,0.2776], yMaj:0.1, yMin:0.02, yFmt:'.1f', ax:1997, ay:[1716,1788,1850,1919], bc:p9BlueCurve, rc:p9RedCurve, bd:p9BlueData, rd:p9RedData, eb:0.008, er:0.008},
  {frame:[187,2454,825,3095], xDom:domA, yDom:[-0.00522,0.01035], yMaj:0.002, yMin:0.0005, yFmt:'.3f', ax:312, ay:[2519,2586,2645,2710], bc:p10BlueCurve, rc:p10RedCurve, bd:p10BlueData, rd:p10RedData, eb:0.00015, er:0.0002},
  {frame:[1046,2454,1683,3095], xDom:domB, yDom:[-0.01024,0.0192], yMaj:0.005, yMin:0.001, yFmt:'.3f', ax:1172, ay:[2519,2586,2645,2710], bc:p11BlueCurve, rc:p11RedCurve, bd:p11BlueData, rd:p11RedData, eb:0.0003, er:0.0003},
  {frame:[1884,2444,2543,3107], xDom:domC, yDom:[-0.0526,0.1079], yMaj:0.02, yMin:0.005, yFmt:'.2f', ax:2013, ay:[2508,2576,2640,2707], bc:p12BlueCurve, rc:p12RedCurve, bd:[], rd:[], eb:0, er:0}
];
const cellX = [0, 868, 1726];

const BLUE = '#0000ff', RED = '#ff0000', FRAME = '#8a8a8a';
const FONT = '"Liberation Serif", "Times New Roman", Times, serif';

const svg = d3.select('#chart').append('svg')
  .attr('width', 2605).attr('height', 3242)
  .style('font-family', FONT);

// "1 200" style labels with a thin space
const fmtW = d => { const s = String(d); return s.slice(0, -3) + '\u2009' + s.slice(-3); };

function ticksBetween(dom, step) {
  const lo = Math.ceil(dom[0] / step - 1e-6), hi = Math.floor(dom[1] / step + 1e-6);
  return d3.range(lo, hi + 1).map(k => +(k * step).toFixed(6));
}

panels.forEach((p, i) => {
  const [x0, y0, x1, y1] = p.frame;
  const x = d3.scaleLinear().domain(p.xDom).range([x0, x1]);
  const y = d3.scaleLinear().domain(p.yDom).range([y1, y0]);
  const g = svg.append('g');

  g.append('clipPath').attr('id', 'clip' + i).append('rect')
    .attr('x', x0).attr('y', y0).attr('width', x1 - x0).attr('height', y1 - y0);
  const plot = g.append('g').attr('clip-path', `url(#clip${i})`);

  // zero axis
  plot.append('line').attr('x1', x0).attr('x2', x1).attr('y1', y(0)).attr('y2', y(0))
    .attr('stroke', '#a8a8a8').attr('stroke-width', 1.5);

  const line = d3.line().x(d => x(d[0])).y(d => y(d[1])).curve(d3.curveMonotoneX);
  plot.append('path').datum(p.bc).attr('d', line)
    .attr('fill', 'none').attr('stroke', BLUE).attr('stroke-width', 4);
  plot.append('path').datum(p.rc).attr('d', line)
    .attr('fill', 'none').attr('stroke', RED).attr('stroke-width', 4)
    .attr('stroke-dasharray', '19,11');

  // data points with error bars
  function points(data, defErr, color, shape) {
    const pg = plot.append('g').attr('stroke', color).attr('fill', color).attr('stroke-width', 3);
    data.forEach(d => {
      const e = d.length > 2 ? d[2] : defErr;
      const px = x(d[0]), ya = y(d[1] - e), yb = y(d[1] + e), cw = shape === 'c' ? 7 : 6;
      pg.append('line').attr('x1', px).attr('x2', px).attr('y1', ya).attr('y2', yb);
      pg.append('line').attr('x1', px - cw).attr('x2', px + cw).attr('y1', ya).attr('y2', ya);
      pg.append('line').attr('x1', px - cw).attr('x2', px + cw).attr('y1', yb).attr('y2', yb);
      if (shape === 'c') {
        pg.append('circle').attr('cx', px).attr('cy', y(d[1])).attr('r', 7.5).attr('stroke', 'none');
      } else {
        pg.append('rect').attr('x', px - 5.5).attr('y', y(d[1]) - 5.5).attr('width', 11).attr('height', 11).attr('stroke', 'none');
      }
    });
  }
  points(p.bd, p.eb, BLUE, 'c');
  points(p.rd, p.er, RED, 's');

  // frame + ticks
  g.append('rect').attr('x', x0).attr('y', y0).attr('width', x1 - x0).attr('height', y1 - y0)
    .attr('fill', 'none').attr('stroke', FRAME).attr('stroke-width', 2);

  const xMaj = ticksBetween(p.xDom, 200), xMin = ticksBetween(p.xDom, 50);
  const yMaj = ticksBetween(p.yDom, p.yMaj), yMin = ticksBetween(p.yDom, p.yMin);
  const yf = d3.format(p.yFmt);

  function axis(gen, tr, vals, size, fmt, pad) {
    const a = g.append('g').attr('transform', tr)
      .call(gen.tickValues(vals).tickSize(size).tickPadding(pad || 3).tickFormat(fmt || (() => '')));
    a.select('.domain').remove();
    a.selectAll('line').attr('stroke', FRAME).attr('stroke-width', 1.6);
    a.attr('font-family', FONT).attr('font-size', 40);
    a.selectAll('text').attr('fill', '#000');
  }
  axis(d3.axisBottom(x), `translate(0,${y1})`, xMin, -7);
  axis(d3.axisBottom(x), `translate(0,${y1})`, xMaj, -14, fmtW, 14);
  axis(d3.axisTop(x), `translate(0,${y0})`, xMin, -7);
  axis(d3.axisTop(x), `translate(0,${y0})`, xMaj, -14);
  axis(d3.axisLeft(y), `translate(${x0},0)`, yMin, -7);
  axis(d3.axisLeft(y), `translate(${x0},0)`, yMaj, -14, yf, 9);
  axis(d3.axisRight(y), `translate(${x1},0)`, yMin, -7);
  axis(d3.axisRight(y), `translate(${x1},0)`, yMaj, -14);

  // axis titles
  g.append('text').attr('x', (x0 + x1) / 2).attr('y', y1 + 96)
    .attr('text-anchor', 'middle').attr('font-size', 41).text('W (MeV)');
  const lx = cellX[i % 3] + 39, ly = (y0 + y1) / 2;
  g.append('text').attr('transform', `translate(${lx},${ly}) rotate(-90)`)
    .attr('text-anchor', 'middle').attr('font-size', 41).text('Amplitude');

  // annotation block
  const ax = p.ax, ay = p.ay.map(v => v + 13);
  let t = g.append('text').attr('x', ax).attr('y', ay[0]).attr('text-anchor', 'middle')
    .attr('font-size', 40).attr('font-weight', 'bold');
  t.append('tspan').text(titles[i][0]);
  t.append('tspan').attr('dy', -15).attr('font-size', 27).text(titles[i][1]);

  const r = reactions[i];
  t = g.append('text').attr('x', ax).attr('y', ay[1]).attr('text-anchor', 'middle').attr('font-size', 40);
  t.append('tspan').attr('font-style', 'italic').text(r[0]);
  t.append('tspan').text('N→');
  t.append('tspan').attr('font-style', 'italic').text('π');
  t.append('tspan').text('N ');
  t.append('tspan').attr('font-style', 'italic').text(r[1]);
  t.append('tspan').attr('dy', 10).attr('font-size', 28).text(r[2]);

  t = g.append('text').attr('x', ax).attr('y', ay[2]).attr('text-anchor', 'middle').attr('font-size', 40);
  t.append('tspan').attr('font-style', 'italic').text('θ');
  t.append('tspan').text(' = ' + thetas[i]);

  g.append('text').attr('x', ax).attr('y', ay[3]).attr('text-anchor', 'middle')
    .attr('font-size', 40).text('x = ' + fractions[i]);
});
</script>
</body>
</html>
